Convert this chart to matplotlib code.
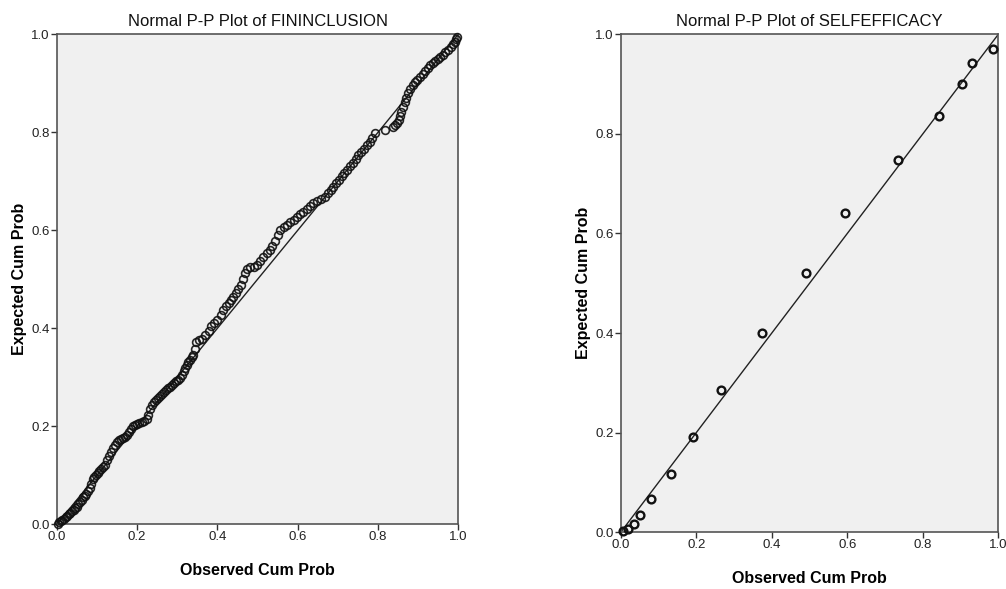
"""
Normal P-P plots for FININCLUSION and SELFEFFICACY (SPSS style).
"""

import matplotlib
matplotlib.use("Agg")
import matplotlib.pyplot as plt

# FININCLUSION: observed vs expected cumulative probability
fin_obs = [
    0.002, 0.006, 0.010, 0.014, 0.018, 0.022, 0.026, 0.030, 0.034, 0.038,
    0.042, 0.046, 0.050, 0.054, 0.058, 0.062, 0.066, 0.070, 0.074, 0.078,
    0.082, 0.086, 0.090, 0.094, 0.098, 0.102, 0.106, 0.110, 0.115, 0.120,
    0.125, 0.130, 0.135, 0.140, 0.145, 0.150, 0.155, 0.160, 0.165, 0.170,
    0.175, 0.180, 0.185, 0.190, 0.195, 0.200, 0.206, 0.212, 0.218, 0.224,
    0.228, 0.232, 0.237, 0.242, 0.247, 0.252, 0.257, 0.262, 0.267, 0.272,
    0.277, 0.282, 0.287, 0.292, 0.297, 0.302, 0.307, 0.312, 0.316, 0.320,
    0.324, 0.328, 0.332, 0.336, 0.340, 0.344, 0.348, 0.355, 0.362, 0.370,
    0.378, 0.385, 0.392, 0.400, 0.408, 0.415, 0.422, 0.428, 0.434, 0.440,
    0.446, 0.452, 0.458, 0.463, 0.468, 0.473, 0.482, 0.490, 0.498, 0.506,
    0.514, 0.523, 0.530, 0.537, 0.544, 0.550, 0.556, 0.565, 0.573, 0.582,
    0.590, 0.598, 0.606, 0.614, 0.622, 0.630, 0.639, 0.648, 0.658, 0.668,
    0.675, 0.682, 0.689, 0.696, 0.703, 0.710, 0.716, 0.722, 0.730, 0.737,
    0.744, 0.751, 0.758, 0.765, 0.772, 0.779, 0.786, 0.793, 0.817, 0.838,
    0.843, 0.848, 0.852, 0.855, 0.858, 0.862, 0.866, 0.870, 0.875, 0.880,
    0.886, 0.892, 0.898, 0.905, 0.912, 0.918, 0.924, 0.930, 0.937, 0.943,
    0.949, 0.955, 0.962, 0.968, 0.975, 0.981, 0.986, 0.991, 0.994, 0.997,
]
fin_exp = [
    0.001, 0.004, 0.006, 0.009, 0.011, 0.014, 0.017, 0.021, 0.024, 0.027,
    0.030, 0.033, 0.036, 0.041, 0.046, 0.050, 0.055, 0.058, 0.062, 0.068,
    0.074, 0.083, 0.092, 0.097, 0.101, 0.105, 0.108, 0.112, 0.117, 0.122,
    0.131, 0.140, 0.148, 0.155, 0.162, 0.168, 0.172, 0.175, 0.177, 0.179,
    0.183, 0.188, 0.195, 0.200, 0.203, 0.205, 0.206, 0.208, 0.210, 0.214,
    0.224, 0.236, 0.244, 0.249, 0.253, 0.257, 0.261, 0.266, 0.270, 0.274,
    0.278, 0.281, 0.285, 0.289, 0.292, 0.295, 0.298, 0.304, 0.312, 0.320,
    0.326, 0.331, 0.336, 0.341, 0.346, 0.357, 0.372, 0.377, 0.379, 0.386,
    0.394, 0.404, 0.411, 0.418, 0.428, 0.437, 0.446, 0.452, 0.458, 0.464,
    0.472, 0.480, 0.489, 0.500, 0.512, 0.522, 0.525, 0.526, 0.530, 0.537,
    0.545, 0.553, 0.560, 0.568, 0.578, 0.590, 0.600, 0.606, 0.611, 0.616,
    0.622, 0.628, 0.633, 0.638, 0.644, 0.649, 0.655, 0.659, 0.664, 0.669,
    0.676, 0.683, 0.689, 0.696, 0.703, 0.710, 0.716, 0.723, 0.731, 0.738,
    0.746, 0.754, 0.760, 0.767, 0.774, 0.781, 0.789, 0.798, 0.805, 0.810,
    0.815, 0.820, 0.826, 0.833, 0.841, 0.851, 0.861, 0.870, 0.880, 0.889,
    0.896, 0.902, 0.907, 0.913, 0.919, 0.925, 0.931, 0.937, 0.942, 0.946,
    0.950, 0.954, 0.958, 0.963, 0.968, 0.974, 0.980, 0.985, 0.990, 0.995,
]

# SELFEFFICACY
self_obs = [0.005, 0.019, 0.034, 0.051, 0.080, 0.132, 0.192, 0.265,
            0.375, 0.490, 0.595, 0.733, 0.843, 0.905, 0.929, 0.985]
self_exp = [0.002, 0.007, 0.017, 0.035, 0.067, 0.118, 0.191, 0.286,
            0.400, 0.520, 0.641, 0.748, 0.835, 0.900, 0.943, 0.970]

TICKS = [0.0, 0.2, 0.4, 0.6, 0.8, 1.0]

plt.rcParams["font.family"] = ["Liberation Sans", "DejaVu Sans"]


def pp_panel(ax, obs, exp, title, mk_lw, mk_alpha):
    ax.set_facecolor("#f0f0f0")
    ax.plot([0, 1], [0, 1], color="#222222", lw=1.0, zorder=2)
    ax.plot(obs, exp, linestyle="none", marker="o", markersize=5.6,
            markerfacecolor="none", markeredgecolor="#111111",
            markeredgewidth=mk_lw, alpha=mk_alpha, zorder=3, clip_on=False)
    ax.set_xlim(0, 1)
    ax.set_ylim(0, 1)
    ax.set_xticks(TICKS)
    ax.set_yticks(TICKS)
    ax.set_xticklabels([f"{t:.1f}" for t in TICKS])
    ax.set_yticklabels([f"{t:.1f}" for t in TICKS])
    ax.tick_params(direction="out", length=4, width=1, colors="#333333",
                   labelsize=9.5, labelcolor="#222222", pad=1)
    for side in ["top", "right", "bottom", "left"]:
        ax.spines[side].set_color("#555555")
        ax.spines[side].set_linewidth(1.2)
    ax.set_title(title, fontsize=12, color="#111111", pad=6)
    ax.set_xlabel("Observed Cum Prob", fontsize=11.5, fontweight="bold",
                  labelpad=14)
    ax.set_ylabel("Expected Cum Prob", fontsize=11.5, fontweight="bold",
                  labelpad=3)


fig = plt.figure(figsize=(10.06, 5.89), dpi=100)
ax1 = fig.add_axes([0.0564, 0.1098, 0.3992, 0.8319])
ax2 = fig.add_axes([0.6170, 0.0963, 0.3754, 0.8455])

pp_panel(ax1, fin_obs, fin_exp, "Normal P-P Plot of FININCLUSION", 1.2, 0.9)
pp_panel(ax2, self_obs, self_exp, "Normal P-P Plot of SELFEFFICACY", 1.7, 1.0)

fig.savefig("out.png", dpi=100)
